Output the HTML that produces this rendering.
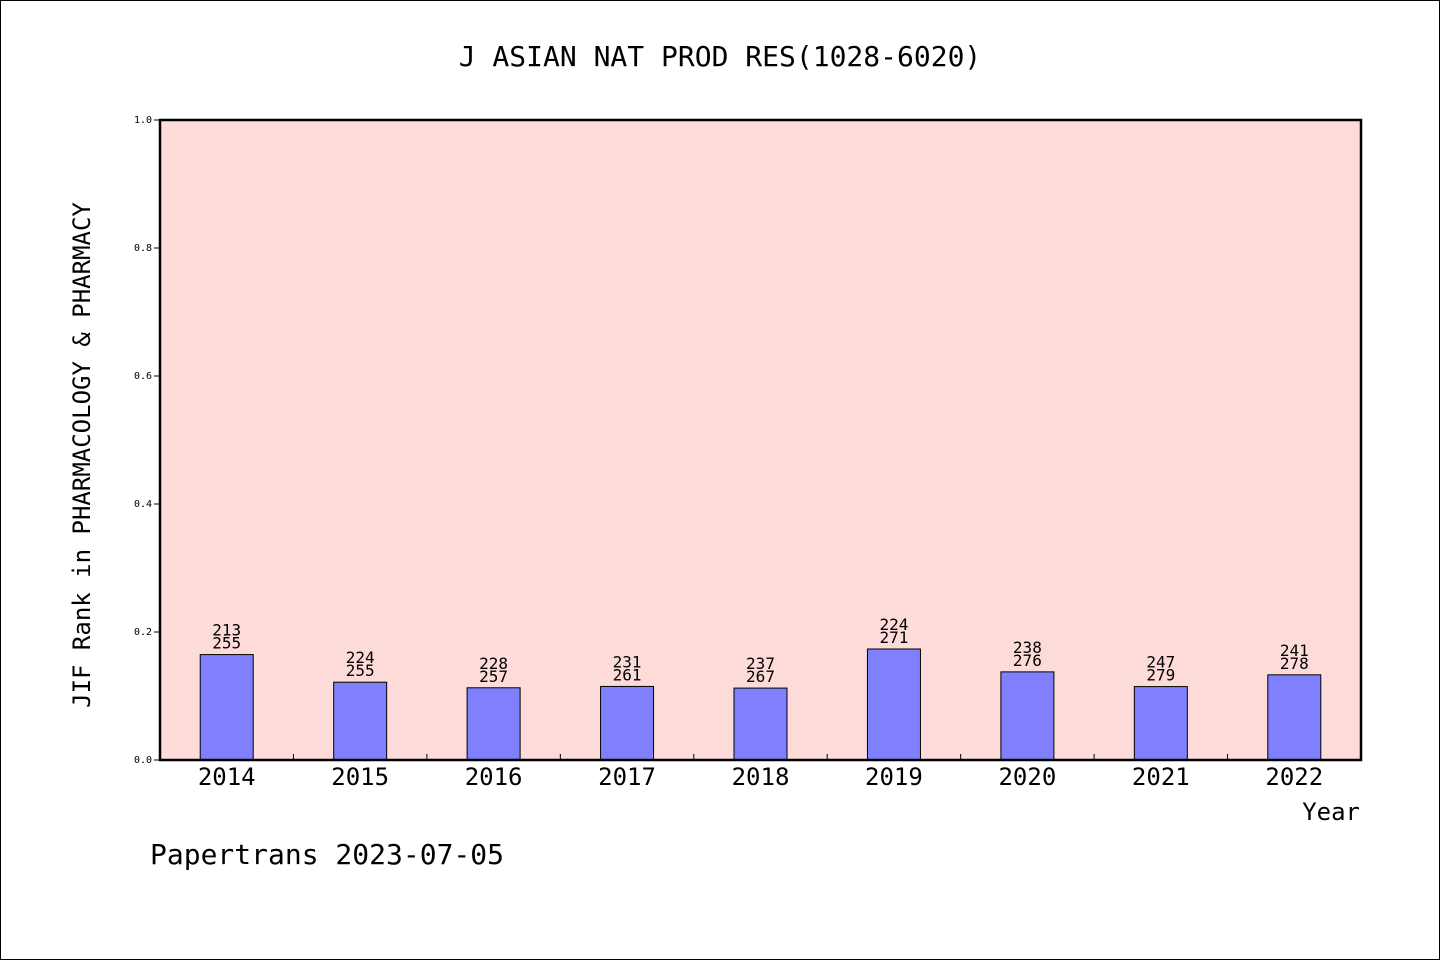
<!DOCTYPE html>
<html><head><meta charset="utf-8"><style>
html,body{margin:0;padding:0;background:#fff}
svg{display:block}
text{font-family:"DejaVu Sans Mono","Liberation Mono","WenQuanYi Zen Hei",monospace;fill:#000}
</style></head><body>
<svg id="chart" width="1440" height="960" xmlns="http://www.w3.org/2000/svg">
<rect x="0.5" y="0.5" width="1439" height="959" fill="#fff" stroke="#000"/>
<text x="720" y="66" text-anchor="middle" font-size="28">J ASIAN NAT PROD RES(1028-6020)</text>
<rect x="160" y="120" width="1201" height="640" fill="#fddbd8"/>
<g id="yaxis"></g>
<g id="bars"></g>
<rect x="160" y="120" width="1201" height="640" fill="none" stroke="#000" stroke-width="2.5"/>
<g id="xaxis"></g>
<text transform="translate(90,455) rotate(-90)" text-anchor="middle" font-size="24">JIF Rank in PHARMACOLOGY &amp; PHARMACY</text>
<text x="1360" y="820" text-anchor="end" font-size="24">Year</text>
<text x="150" y="864" font-size="28">Papertrans 2023-07-05</text>
</svg>
<script>
const years = ["2014","2015","2016","2017","2018","2019","2020","2021","2022"];
const ranks = [213,224,228,231,237,224,238,247,241];
const totals = [255,255,257,261,267,271,276,279,278];
const yTicks = ["0.0","0.2","0.4","0.6","0.8","1.0"];
const NS="http://www.w3.org/2000/svg";
const X0=160,X1=1361,Y0=760,Y1=120;
const band=(X1-X0)/years.length;
const xc=i=>X0+band*(i+0.5);
const y=v=>Y0-(Y0-Y1)*v;
function mk(t,a,p){const e=document.createElementNS(NS,t);for(const k in a)e.setAttribute(k,a[k]);p.appendChild(e);return e;}
const ya=document.getElementById('yaxis'),xa=document.getElementById('xaxis'),bg=document.getElementById('bars');
yTicks.forEach(t=>{const v=parseFloat(t);
 const l=mk('line',{x1:154,x2:160,y1:y(v),y2:y(v),stroke:'#000'},ya);
 
 
 const tx=mk('text',{x:152,y:y(v)+3,'text-anchor':'end','font-size':10},ya);tx.textContent=t;
 
 
});
years.forEach((yr,i)=>{
 const v=1-ranks[i]/totals[i];const c=xc(i);
 const r=mk('rect',{x:c-26.5,y:y(v),width:53,height:Y0-y(v),fill:'#8080ff',stroke:'#000','stroke-width':1},bg);
 
 
 const t1=mk('text',{x:c,y:y(v)-19,'text-anchor':'middle','font-size':16},bg);t1.textContent=ranks[i];
 
 
 const t2=mk('text',{x:c,y:y(v)-6,'text-anchor':'middle','font-size':16},bg);t2.textContent=totals[i];
 
 
 const xl=mk('text',{x:c,y:785,'text-anchor':'middle','font-size':24},xa);xl.textContent=yr;
 
 
 if(i>0){const tk=mk('line',{x1:X0+band*i,x2:X0+band*i,y1:754,y2:760,stroke:'#000'},xa);
 
 }
});
</script>
</body></html>
